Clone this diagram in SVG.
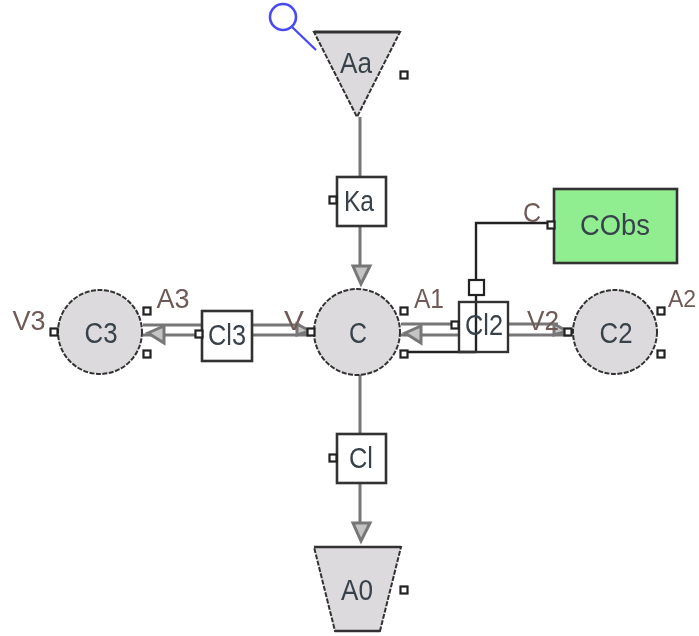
<svg xmlns="http://www.w3.org/2000/svg" width="699" height="636" viewBox="0 0 699 636">
<style>
text{font-family:"Liberation Sans",Arial,sans-serif;font-size:29px;fill:#38424c;text-anchor:middle}
.lb{fill:#6f5a55;font-size:28px}
.cmp{fill:#dcdadc;stroke:#333;stroke-width:2;stroke-dasharray:5 1.5}
.box{fill:#fff;stroke:#333;stroke-width:2.6}
.port{fill:#fff;stroke:#222;stroke-width:2.2}
.flow{fill:none;stroke:#777;stroke-width:3}
.sig{fill:none;stroke:#222;stroke-width:2.4}
.ah{fill:#c4c4c4;stroke:#777;stroke-width:3}
</style>
<defs><filter id="b" x="-5%" y="-5%" width="110%" height="110%"><feGaussianBlur stdDeviation="0.65"/></filter></defs>
<rect width="699" height="636" fill="#fff"/>
<g filter="url(#b)">
<g id="connectors">
<path class="flow" d="M360 117V177M360 226V266M360 372V434M360 483V524"/>
<path class="flow" d="M143 325H202M143 335H202M252 325H300M252 335H311"/>
<path class="flow" d="M401 324H459M401 335H459M508 324H558M508 335H570"/>
<path class="ah" d="M353 266H370L361 284Z"/>
<path class="ah" d="M353 523H370L361 541Z"/>
<path class="ah" d="M148 333L164 326V343Z"/>
<path class="ah" d="M405 333L421 326V343Z"/>
<path class="ah" d="M297 324L310 331L297 335Z"/>
<path class="ah" d="M554 324L567 331L554 335Z"/>
<path class="sig" d="M548 223H476V352M476 352H404"/>
<path d="M316 50L291 26" fill="none" stroke="#4a4af5" stroke-width="2.400"/>
</g>
<g id="Aa"><path d="M314 32H400L357 117Z" class="cmp"/><path d="M314 32H400" stroke="#333" stroke-width="3"/><text x="356" y="73" textLength="32" lengthAdjust="spacingAndGlyphs">Aa</text><rect class="port" x="400.500" y="71.500" width="7" height="7"/></g>
<g id="Mag"><circle cx="283" cy="17" r="13" fill="none" stroke="#4a4af5" stroke-width="2.600"/></g>
<g id="Ka"><rect class="box" x="337" y="177" width="49" height="49"/><rect class="port" x="329.500" y="196.500" width="7" height="7"/><text x="359" y="211" textLength="30" lengthAdjust="spacingAndGlyphs">Ka</text></g>
<g id="C"><circle class="cmp" cx="357" cy="332" r="43"/><text x="358" y="343" textLength="18" lengthAdjust="spacingAndGlyphs">C</text><rect class="port" x="400.500" y="307.500" width="7" height="7"/><rect class="port" x="400.500" y="350.500" width="7" height="7"/><rect class="port" x="307.500" y="328.500" width="7" height="7"/><text class="lb" x="429" y="308" textLength="30" lengthAdjust="spacingAndGlyphs">A1</text><text class="lb" x="294" y="330" textLength="20" lengthAdjust="spacingAndGlyphs">V</text></g>
<g id="C3"><circle class="cmp" cx="100" cy="332" r="42"/><text x="101" y="343" textLength="33" lengthAdjust="spacingAndGlyphs">C3</text><rect class="port" x="143.500" y="307.500" width="7" height="7"/><rect class="port" x="143.500" y="350.500" width="7" height="7"/><rect class="port" x="50.500" y="328.500" width="7" height="7"/><text class="lb" x="173" y="308" textLength="33" lengthAdjust="spacingAndGlyphs">A3</text><text class="lb" x="29" y="330" textLength="33" lengthAdjust="spacingAndGlyphs">V3</text></g>
<g id="C2"><circle class="cmp" cx="615" cy="332" r="42"/><text x="616" y="343" textLength="33" lengthAdjust="spacingAndGlyphs">C2</text><rect class="port" x="657.500" y="307.500" width="7" height="7"/><rect class="port" x="657.500" y="350.500" width="7" height="7"/><rect class="port" x="564.500" y="328.500" width="7" height="7"/><text class="lb" x="682" y="307" style="font-size:23px">A2</text><text class="lb" x="543" y="330" textLength="32" lengthAdjust="spacingAndGlyphs">V2</text></g>
<g id="Cl3"><rect class="box" x="202" y="311" width="50" height="50"/><rect class="port" x="195.500" y="330.500" width="7" height="7"/><text x="227" y="345" textLength="38" lengthAdjust="spacingAndGlyphs">Cl3</text></g>
<g id="Cl2"><rect x="459" y="302" width="49" height="50" fill="none" stroke="#333" stroke-width="2.400"/><rect class="port" x="451.500" y="321.500" width="7" height="7"/><text x="484" y="335" textLength="38" lengthAdjust="spacingAndGlyphs">Cl2</text><rect class="port" x="469" y="280" width="15" height="15"/></g>
<g id="Cl"><rect class="box" x="337" y="434" width="49" height="49"/><rect class="port" x="329.500" y="454.500" width="7" height="7"/><text x="361" y="468" textLength="24" lengthAdjust="spacingAndGlyphs">Cl</text></g>
<g id="A0"><path d="M314 547H401L380 631H335Z" class="cmp"/><path d="M314 547H401M335 631H380" stroke="#333" stroke-width="2.600"/><text x="357" y="600" textLength="32" lengthAdjust="spacingAndGlyphs">A0</text><rect class="port" x="400.500" y="586.500" width="7" height="7"/></g>
<g id="COBs"><rect x="554" y="189" width="123" height="74" fill="#90ee90" stroke="#333" stroke-width="2.600"/><rect class="port" x="547.500" y="221.500" width="7" height="7"/><text x="615" y="235" textLength="70" lengthAdjust="spacingAndGlyphs">CObs</text><text class="lb" x="532" y="222" textLength="18" lengthAdjust="spacingAndGlyphs">C</text></g>
</g>
</svg>
